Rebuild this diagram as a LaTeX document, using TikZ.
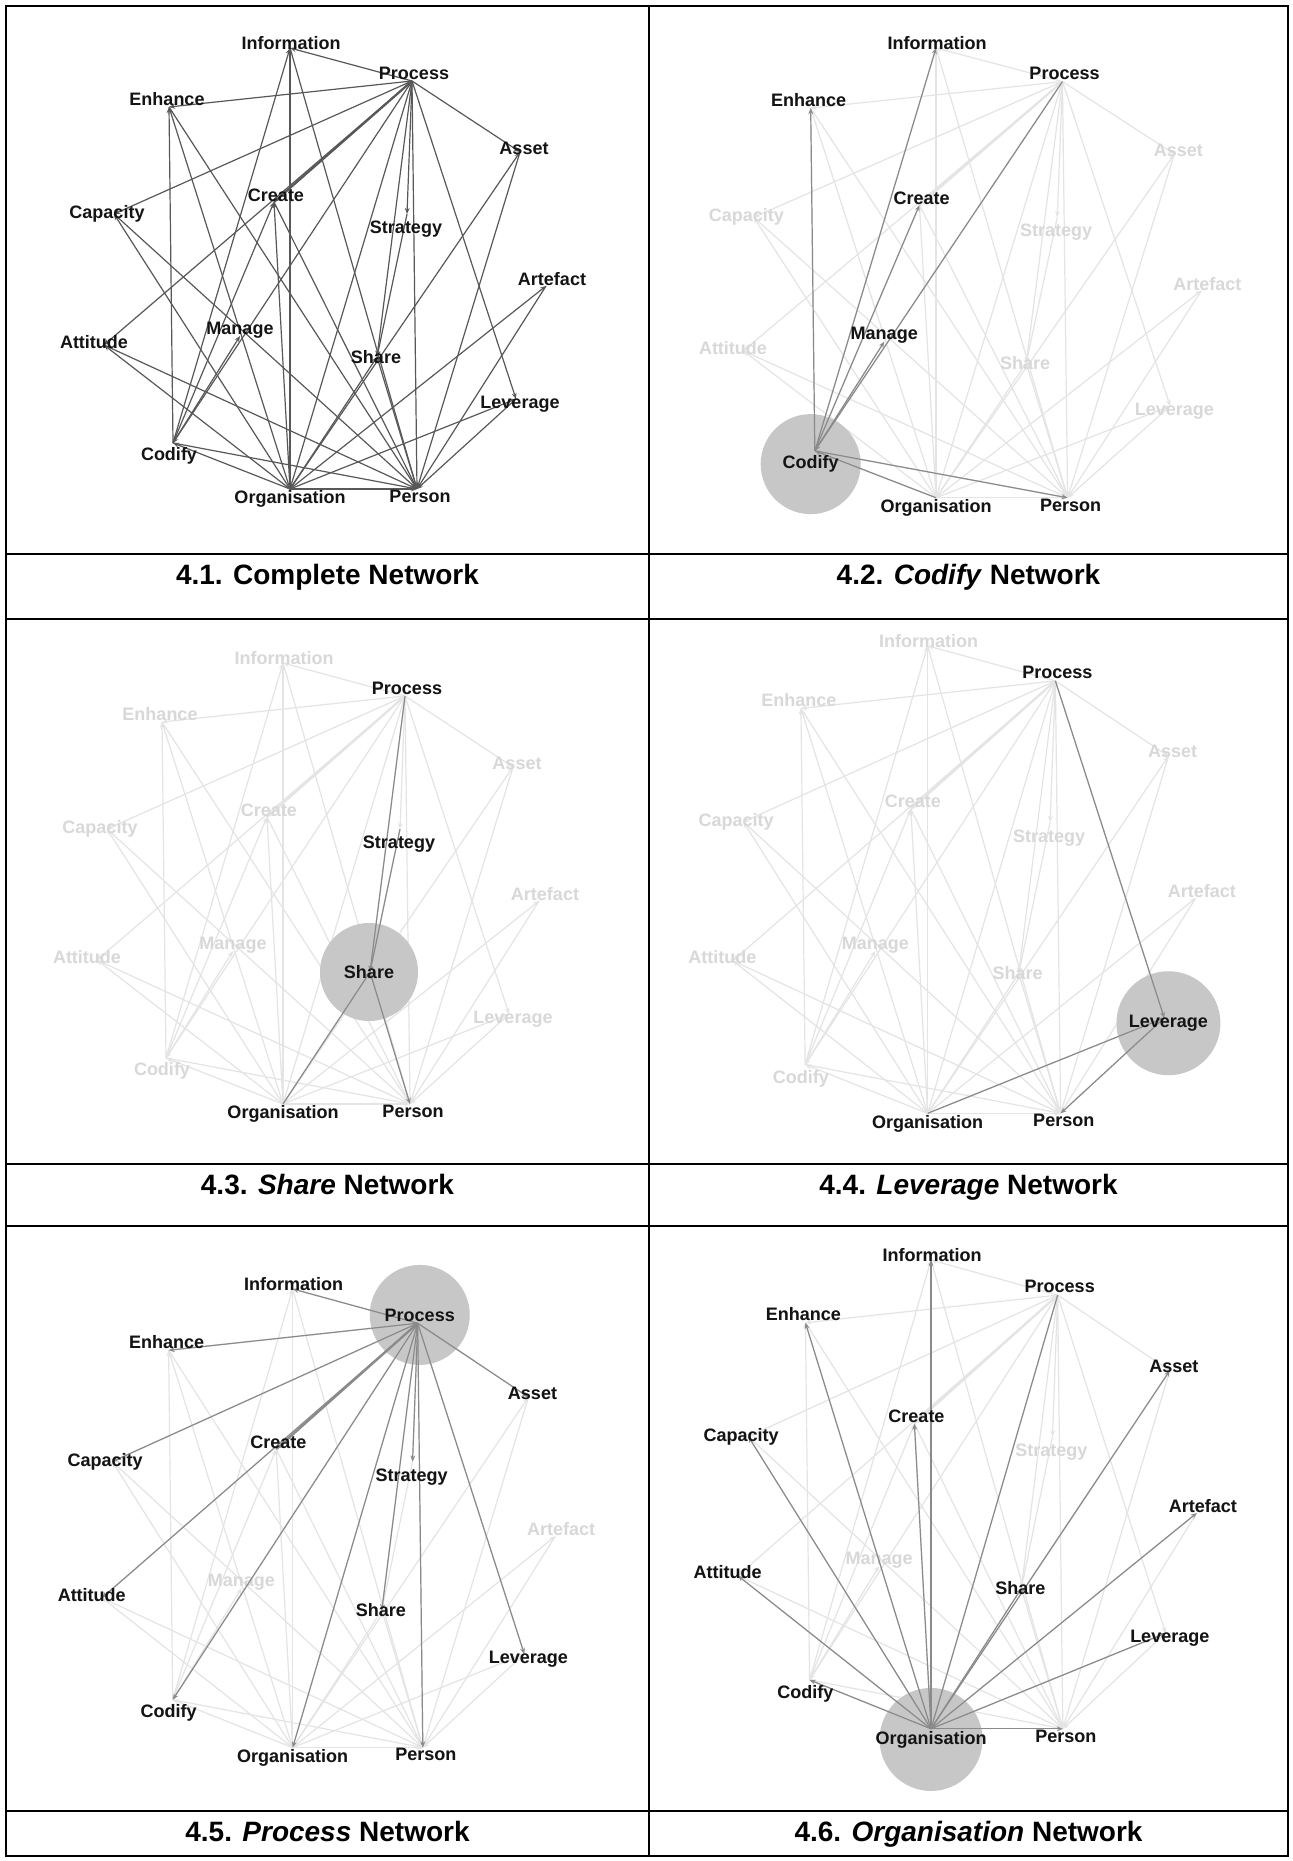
\documentclass[tikz,border=0pt]{standalone}
\usepackage{fontspec}
\setmainfont{Liberation Sans}
\usetikzlibrary{arrows.meta}
\definecolor{edgedark}{RGB}{88,88,88}
\definecolor{edgemid}{RGB}{138,138,138}
\definecolor{edgefaint}{RGB}{228,228,228}
\definecolor{lblfaint}{RGB}{216,216,216}
\definecolor{lbldark}{RGB}{20,20,20}
\definecolor{hubgray}{RGB}{199,199,199}

\def\txtI{Information}
\def\txtP{Process}
\def\txtE{Enhance}
\def\txtAs{Asset}
\def\txtCr{Create}
\def\txtCa{Capacity}
\def\txtSt{Strategy}
\def\txtAr{Artefact}
\def\txtM{Manage}
\def\txtAt{Attitude}
\def\txtSh{Share}
\def\txtL{Leverage}
\def\txtCo{Codify}
\def\txtO{Organisation}
\def\txtPe{Person}

% name / dot x / dot y / label dx / label dy   (pixels, y downwards)
\def\nodelist{I/290/48/1/-5, P/412/81/2/-8, E/169/107/-2/-8, As/520/152/4/-4,
 Cr/274/202/2/-7, Ca/114/214/-7/0, St/407/214/-1/15, Ar/546/286/6/-7,
 M/240/336/0/-6, At/104/345/-10/-3, Sh/377/357/-1/0, L/516/399/4/5,
 Co/173/443/-4/13, O/290/489/0/10, Pe/417/489/3/7}

\def\edgelist{P/I, P/E, P/As, P/Ca, P/Cr, P/At, P/Co, P/O, P/Sh, P/St, P/Pe, P/L,
 O/E, O/I, O/As, O/Ca, O/Cr, O/Ar, O/At, O/Sh, O/L, O/Co, O/Pe,
 Co/E, Co/I, Co/Cr, Co/M, Co/Pe, St/Sh, Sh/Pe, L/Pe,
 I/Pe, E/Pe, Ca/Pe, At/Pe, Cr/Pe, As/Pe, Ar/Pe}

\tikzset{
  netlbl/.style={font=\bfseries\fontsize{9}{10}\selectfont, inner sep=0pt, text=lbldark},
  fadelbl/.style={netlbl, text=lblfaint},
  tipsmall/.style={-{Stealth[length=3pt,width=2.4pt]}},
  edgeall/.style={draw=edgedark, line width=0.6pt, tipsmall},
  edgefade/.style={draw=edgefaint, line width=0.6pt, tipsmall},
  edgehi/.style={draw=edgemid, line width=0.6pt, tipsmall},
  hubdisk/.style={fill=hubgray},
  rule/.style={line width=1pt, draw=black},
  captxt/.style={anchor=base, font=\bfseries\fontsize{14}{17}\selectfont},
}

\newcommand\setpanel[5]{%
  \begin{scope}[shift={(#2,#3)}, xscale=#4, yscale=#5]
    \foreach \n/\x/\y/\dx/\dy in \nodelist {
      \coordinate (#1\n) at (\x,\y);
      \coordinate (#1\n-l) at (\x+\dx,\y+\dy);
    }
  \end{scope}}
\newcommand\alledges[2]{%
  \foreach \a/\b in \edgelist {\draw[#2] (#1\a) -- (#1\b);}
  \draw[#2, line width=1.1pt] (#1Cr) -- (#1P);}
\newcommand\alllabels[2]{%
  \foreach \n/\x/\y/\dx/\dy in \nodelist {\node[#2] (#1\n-t) at (#1\n-l) {\csname txt\n\endcsname};}}
\newcommand\somelabels[3]{%
  \foreach \n in {#3} {\node[#2] (#1\n-h) at (#1\n-l) {\csname txt\n\endcsname};}}
\newcommand\someedges[3]{%
  \foreach \a/\b in {#3} {\draw[#2] (#1\a) -- (#1\b);}}

\begin{document}
\begin{tikzpicture}[x=0.5pt,y=-0.5pt]
\useasboundingbox (0,0) rectangle (1293,1861);
\fill[white] (0,0) rectangle (1293,1861);

% panel layouts
\setpanel{pa}{0}{0}{1}{1}
\setpanel{pb}{635.6}{-1}{1.036}{1.02}
\setpanel{pc}{-7}{615}{1}{1}
\setpanel{pd}{624}{595}{1.047}{1.06}
\setpanel{pe}{-4.6}{1239}{1.025}{1.04}
\setpanel{pf}{630}{1209}{1.038}{1.063}

% 4.1 complete network
\alledges{pa}{edgeall}
\alllabels{pa}{netlbl}

% 4.2 Codify
\alledges{pb}{edgefade}
\alllabels{pb}{fadelbl}
\fill[hubdisk] (pbCo-l) circle[radius=25pt];
\someedges{pb}{edgehi}{Co/E, Co/I, Co/Cr, Co/M, P/Co, O/Co, Co/Pe}
\somelabels{pb}{netlbl}{Co, E, I, Cr, M, P, O, Pe}

% 4.3 Share
\alledges{pc}{edgefade}
\alllabels{pc}{fadelbl}
\fill[hubdisk] (pcSh-l) circle[radius=24.5pt];
\someedges{pc}{edgehi}{P/Sh, St/Sh, O/Sh, Sh/Pe}
\somelabels{pc}{netlbl}{Sh, P, St, O, Pe}

% 4.4 Leverage
\alledges{pd}{edgefade}
\alllabels{pd}{fadelbl}
\fill[hubdisk] (pdL-l) circle[radius=26pt];
\someedges{pd}{edgehi}{P/L, O/L, L/Pe}
\somelabels{pd}{netlbl}{L, P, O, Pe}

% 4.5 Process
\alledges{pe}{edgefade}
\alllabels{pe}{fadelbl}
\fill[hubdisk] (peP-l) circle[radius=25pt];
\someedges{pe}{edgehi}{P/I, P/E, P/As, P/Ca, P/Cr, P/At, P/Co, P/O, P/Sh, P/St, P/Pe, P/L}
\draw[edgehi, line width=1.1pt] (peCr) -- (peP);
\somelabels{pe}{netlbl}{P, I, E, As, Ca, Cr, At, Co, O, Sh, St, Pe, L}

% 4.6 Organisation
\alledges{pf}{edgefade}
\alllabels{pf}{fadelbl}
\fill[hubdisk] (pfO-l) circle[radius=25.75pt];
\someedges{pf}{edgehi}{O/E, O/I, P/O, O/As, O/Ca, O/Cr, O/Ar, O/At, O/Sh, O/L, O/Co, O/Pe}
\somelabels{pf}{netlbl}{O, E, I, P, As, Ca, Cr, Ar, At, Sh, L, Co, Pe}

% table rules
\draw[rule] (6,6) rectangle (1288,1856);
\draw[rule] (649,6) -- (649,1856);
\foreach \yy in {554,619,1164,1226,1811} {\draw[rule] (6,\yy) -- (1288,\yy);}

% captions
\node[captxt] (cap1) at (327.5,584) {4.1. Complete Network};
\node[captxt] (cap2) at (968.5,584) {4.2. \textit{Codify} Network};
\node[captxt] (cap3) at (327.5,1194) {4.3. \textit{Share} Network};
\node[captxt] (cap4) at (968.5,1194) {4.4. \textit{Leverage} Network};
\node[captxt] (cap5) at (327.5,1841) {4.5. \textit{Process} Network};
\node[captxt] (cap6) at (968.5,1841) {4.6. \textit{Organisation} Network};
\end{tikzpicture}
\end{document}
